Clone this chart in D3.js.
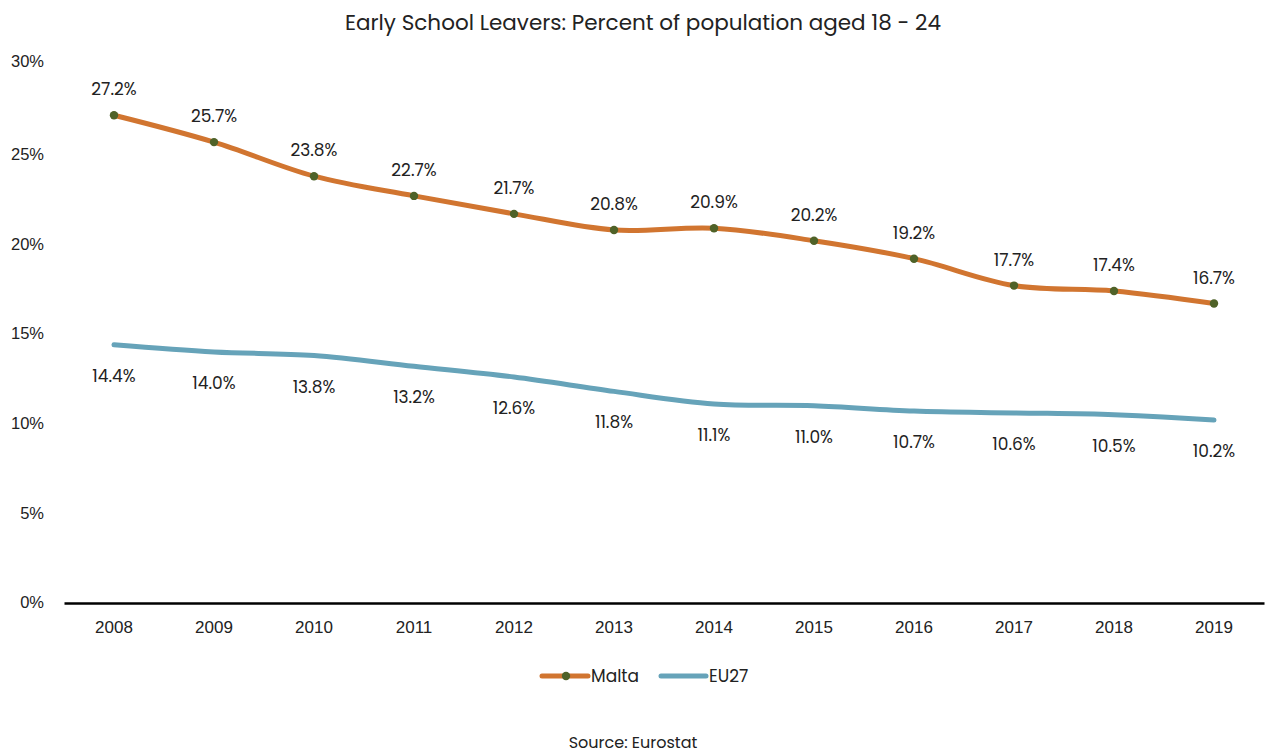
<!DOCTYPE html>
<html><head><meta charset="utf-8">
<script src="https://cdn.jsdelivr.net/npm/d3@7"></script>
<style>body{margin:0;background:#fff;} svg{display:block;font-family:"Poppins","Inter","Open Sans",sans-serif;}</style>
</head><body>
<svg id="c" width="1266" height="754"></svg>
<script>
const years = ["2008","2009","2010","2011","2012","2013","2014","2015","2016","2017","2018","2019"];
const malta = [27.2,25.7,23.8,22.7,21.7,20.8,20.9,20.2,19.2,17.7,17.4,16.7];
const eu27 = [14.4,14.0,13.8,13.2,12.6,11.8,11.1,11.0,10.7,10.6,10.5,10.2];
const yTicks = [0,5,10,15,20,25,30];
const title = "Early School Leavers: Percent of population aged 18 - 24";
const source = "Source: Eurostat";

const svg = d3.select("#c");
const x = d3.scaleBand().domain(years).range([64,1264]);
const y = d3.scaleLinear().domain([0,30]).range([603,65]);
const cx = d => x(d) + x.bandwidth()/2;
const textCol = "#222";

svg.append("text").attr("x",643).attr("y",30).attr("text-anchor","middle")
  .attr("font-size",21.5).attr("fill",textCol).text(title);

// y axis labels
const ya = svg.append("g").attr("transform","translate(44,0)")
  .call(d3.axisLeft(y).tickValues(yTicks).tickFormat(d=>d+"%").tickSize(0).tickPadding(0));
ya.select(".domain").remove();
ya.selectAll("text").attr("font-size",16.5).attr("fill",textCol).style("font-family","inherit")
  .attr("dy","0.3em");
ya.selectAll(".tick").filter(d=>d===30).select("text").attr("dy","0.1em");

// x axis
const xa = svg.append("g").attr("transform","translate(0,603)")
  .call(d3.axisBottom(x).tickSize(0).tickPadding(18));
xa.select(".domain").attr("stroke","#000").attr("stroke-width",2.5);
xa.selectAll("text").attr("font-size",17).attr("fill",textCol).style("font-family","inherit");

const line = d3.line().x((d,i)=>cx(years[i])).y(d=>y(d)).curve(d3.curveCatmullRom.alpha(0.5));
const orange = "#D17530", blue = "#66A3B9", dot = "#4F6228";

svg.append("path").datum(eu27).attr("d",line).attr("fill","none").attr("stroke",blue)
  .attr("stroke-width",5).attr("stroke-linecap","round");
svg.append("path").datum(malta).attr("d",line).attr("fill","none").attr("stroke",orange)
  .attr("stroke-width",5).attr("stroke-linecap","round");
svg.selectAll("circle.m").data(malta).join("circle").attr("class","m")
  .attr("cx",(d,i)=>cx(years[i])).attr("cy",d=>y(d)).attr("r",4.2).attr("fill",dot);

svg.selectAll("text.ml").data(malta).join("text").attr("class","ml")
  .attr("x",(d,i)=>cx(years[i])).attr("y",d=>y(d)-20).attr("text-anchor","middle")
  .attr("font-size",17).attr("fill",textCol).text(d=>d.toFixed(1)+"%");
svg.selectAll("text.el").data(eu27).join("text").attr("class","el")
  .attr("x",(d,i)=>cx(years[i])).attr("y",d=>y(d)+37).attr("text-anchor","middle")
  .attr("font-size",17).attr("fill",textCol).text(d=>d.toFixed(1)+"%");

// legend
const lg = svg.append("g");
lg.append("line").attr("x1",542).attr("x2",588).attr("y1",676).attr("y2",676)
  .attr("stroke",orange).attr("stroke-width",5).attr("stroke-linecap","round");
lg.append("circle").attr("cx",566).attr("cy",676).attr("r",4.2).attr("fill",dot);
lg.append("text").attr("x",591).attr("y",682).attr("font-size",17).attr("fill",textCol).text("Malta");
lg.append("line").attr("x1",661).attr("x2",706).attr("y1",676).attr("y2",676)
  .attr("stroke",blue).attr("stroke-width",5).attr("stroke-linecap","round");
lg.append("text").attr("x",709).attr("y",682).attr("font-size",17).attr("fill",textCol).text("EU27");

svg.append("text").attr("x",633).attr("y",748).attr("text-anchor","middle")
  .attr("font-size",16).attr("fill",textCol).text(source);
</script>
</body></html>
